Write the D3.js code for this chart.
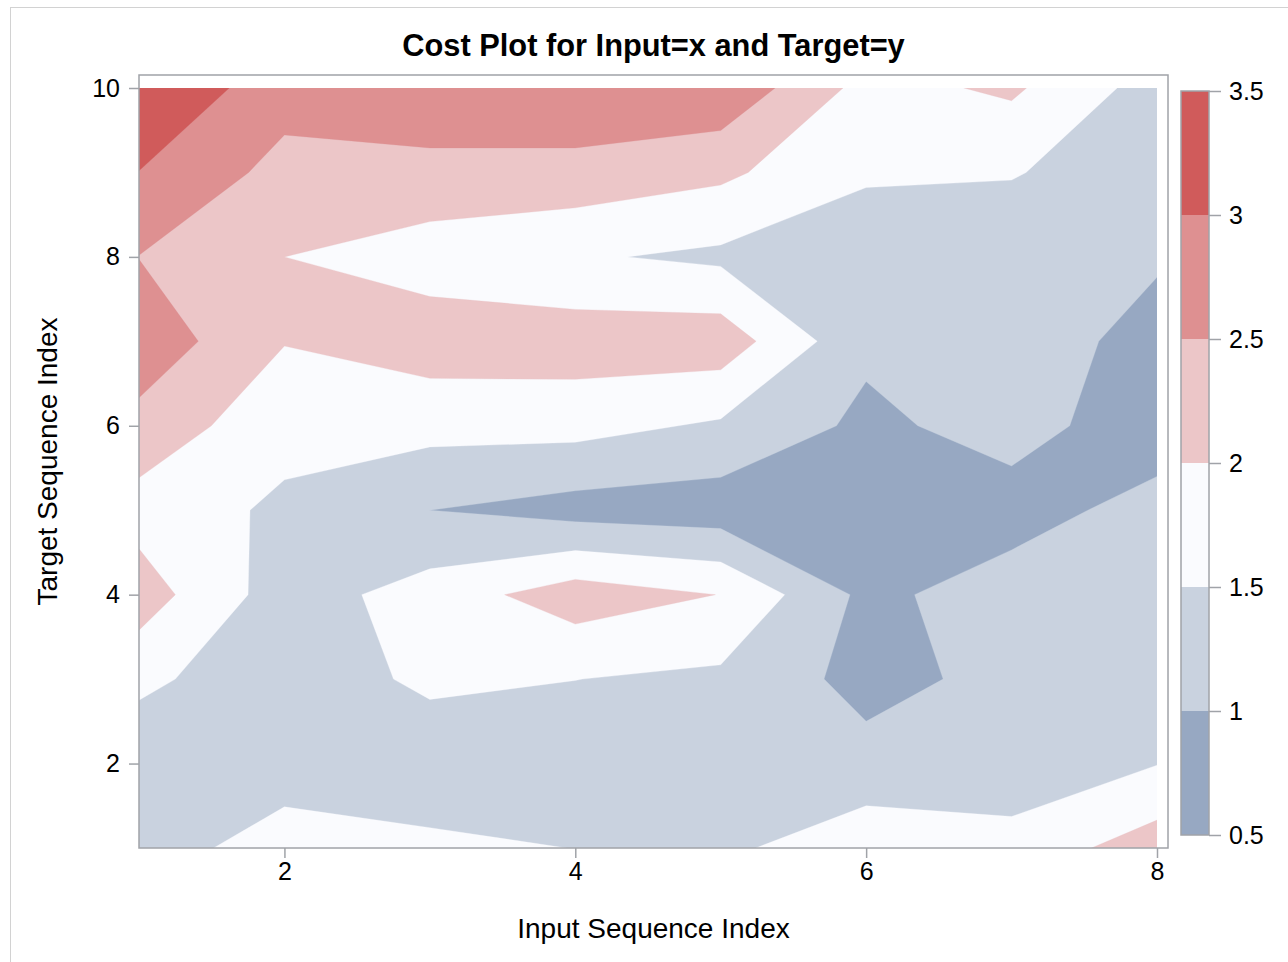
<!DOCTYPE html>
<html><head><meta charset="utf-8">
<script src="https://cdn.jsdelivr.net/npm/d3@7"></script>
<style>
body{margin:0;background:#fff;}
svg{display:block;}
text{font-family:"Liberation Sans", Arial, sans-serif; fill:#000;}
</style>
</head><body>
<svg id="chart" width="1288" height="962"></svg>
<script>
// ---- data (cost at each Input index 1..8, one array per Target index) ----
const inputIndex  = [1, 2, 3, 4, 5, 6, 7, 8];
const targetIndex = [1, 2, 3, 4, 5, 6, 7, 8, 9, 10];
const costTarget1  = [1.30, 1.69, 1.655, 1.49, 1.393, 1.837, 1.69, 2.254];
const costTarget2  = [1.035, 1.30, 1.01, 1.20, 1.20, 1.163, 1.18, 1.485];
const costTarget3  = [1.655, 1.035, 1.655, 1.505, 1.40, 0.837, 1.145, 1.35];
const costTarget4  = [2.25, 1.25, 1.72, 2.265, 1.99, 0.876, 1.248, 1.30];
const costTarget5  = [1.79, 1.41, 1.00, 0.80, 0.725, 0.70, 0.78, 1.20];
const costTarget6  = [2.337, 1.66, 1.667, 1.67, 1.43, 0.89, 1.20, 0.70];
const costTarget7  = [2.83, 2.02, 2.26, 2.27, 2.29, 1.10, 1.25, 0.833];
const costTarget8  = [2.49, 2.00, 1.77, 1.556, 1.40, 1.27, 1.20, 1.053];
const costTarget9  = [2.99, 2.34, 2.32, 2.32, 2.105, 1.55, 1.53, 1.23];
const costTarget10 = [3.49, 2.70, 2.94, 2.94, 2.90, 1.83, 2.083, 1.28];
const costRows = [costTarget1, costTarget2, costTarget3, costTarget4, costTarget5,
                  costTarget6, costTarget7, costTarget8, costTarget9, costTarget10];
const levels = [0.5, 1, 1.5, 2, 2.5, 3, 3.5];
const levelColors = ["#97a8c2", "#c9d2df", "#fafbfe", "#ecc6c8", "#de9091", "#d05b5b"];
const xTicks = [2, 4, 6, 8];
const yTicks = [2, 4, 6, 8, 10];
const title = "Cost Plot for Input=x and Target=y";
const xLabel = "Input Sequence Index";
const yLabel = "Target Sequence Index";

// ---- layout ----
const svg = d3.select("#chart");
const frame = {left: 139, right: 1168, top: 75, bottom: 848};
const x = d3.scaleLinear().domain([1, 8]).range([139, 1157]);
const y = d3.scaleLinear().domain([1, 10]).range([848, 88]);
const cbar = d3.scaleLinear().domain([0.5, 3.5]).range([835, 91]);
const axisGray = "#a0a3a8";

svg.append("rect").attr("x", 10.5).attr("y", 7.5).attr("width", 1300).attr("height", 1000)
  .attr("fill", "none").attr("stroke", "#d2d2d2");

// ---- contours ----
const nx = inputIndex.length, ny = targetIndex.length;
const values = [];
costRows.forEach(r => r.forEach(v => values.push(v)));
const contours = d3.contours().size([nx, ny]).thresholds(levels.slice(0, -1))(values);
const proj = d3.geoTransform({
  point: function(cx, cy) {
    this.stream.point(x(inputIndex[0] + cx - 0.5), y(targetIndex[0] + cy - 0.5));
  }
});
const path = d3.geoPath(proj);

svg.append("clipPath").attr("id", "clipData").append("rect")
  .attr("x", x(1)).attr("y", y(10)).attr("width", x(8) - x(1)).attr("height", y(1) - y(10));

svg.append("g").attr("clip-path", "url(#clipData)")
  .selectAll("path").data(contours).join("path")
  .attr("d", path)
  .attr("fill", (d, i) => levelColors[i])
  .attr("stroke", (d, i) => levelColors[i])
  .attr("stroke-width", 0.3);

// ---- frame & axes ----
svg.append("rect").attr("x", frame.left).attr("y", frame.top)
  .attr("width", frame.right - frame.left).attr("height", frame.bottom - frame.top)
  .attr("fill", "none").attr("stroke", axisGray).attr("stroke-width", 1.5);

const gx = svg.append("g").attr("transform", `translate(0,${frame.bottom})`)
  .call(d3.axisBottom(x).tickValues(xTicks).tickSize(10).tickPadding(4).tickFormat(d3.format("d")));
const gy = svg.append("g").attr("transform", `translate(${frame.left},0)`)
  .call(d3.axisLeft(y).tickValues(yTicks).tickSize(10).tickPadding(9).tickFormat(d3.format("d")));
[gx, gy].forEach(g => {
  g.select(".domain").remove();
  g.selectAll(".tick line").attr("stroke", axisGray).attr("stroke-width", 1.5);
  g.selectAll(".tick text").attr("font-size", 25).attr("font-family", "Liberation Sans, Arial, sans-serif").attr("fill", "#000");
});

svg.append("text").attr("x", (frame.left + frame.right) / 2).attr("y", 56)
  .attr("text-anchor", "middle").attr("font-size", 30.8).attr("font-weight", "bold").text(title);
svg.append("text").attr("x", (frame.left + frame.right) / 2).attr("y", 938)
  .attr("text-anchor", "middle").attr("font-size", 28).text(xLabel);
svg.append("text").attr("transform", `translate(57,${(frame.top + frame.bottom) / 2}) rotate(-90)`)
  .attr("text-anchor", "middle").attr("font-size", 28).text(yLabel);

// ---- colour bar ----
const cb = svg.append("g");
const cbX = 1181, cbW = 28;
cb.selectAll("rect.band").data(levelColors).join("rect").attr("class", "band")
  .attr("x", cbX).attr("width", cbW)
  .attr("y", (d, i) => cbar(levels[i + 1]))
  .attr("height", (d, i) => cbar(levels[i]) - cbar(levels[i + 1]))
  .attr("fill", d => d);
cb.append("rect").attr("x", cbX).attr("y", cbar(3.5)).attr("width", cbW)
  .attr("height", cbar(0.5) - cbar(3.5)).attr("fill", "none").attr("stroke", axisGray).attr("stroke-width", 1.5);
const gc = cb.append("g").attr("transform", `translate(${cbX + cbW},0)`)
  .call(d3.axisRight(cbar).tickValues(levels).tickSize(12).tickPadding(8).tickFormat(d => String(d)));
gc.select(".domain").remove();
gc.selectAll(".tick line").attr("stroke", axisGray).attr("stroke-width", 1.5);
gc.selectAll(".tick text").attr("font-size", 25).attr("font-family", "Liberation Sans, Arial, sans-serif").attr("fill", "#000");
</script>
</body></html>
